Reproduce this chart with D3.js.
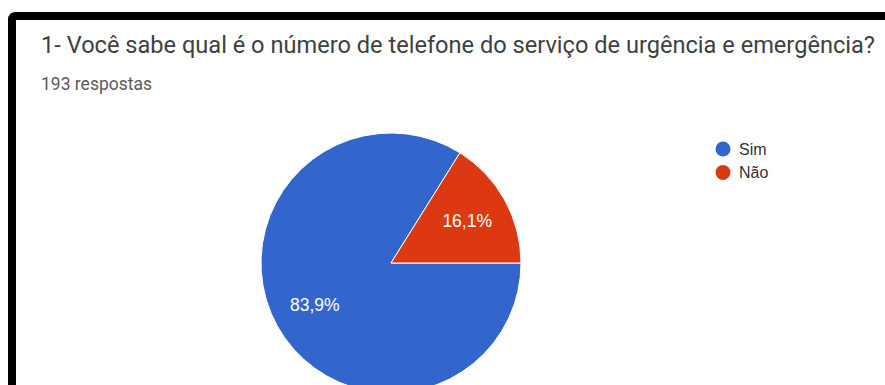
<!DOCTYPE html>
<html>
<head>
<meta charset="utf-8">
<script src="https://cdn.jsdelivr.net/npm/d3@7"></script>
<style>
  html, body { margin: 0; padding: 0; background: #fff; }
  svg { display: block; }
</style>
</head>
<body>
<svg id="chart" width="885" height="385"></svg>
<script>
// Survey answers for question 1
const categories = ["Sim", "Não"];
const percentages = [83.9, 16.1];
const colors = ["#3366cc", "#dc3912"];
const title = "1- Você sabe qual é o número de telefone do serviço de urgência e emergência?";
const subtitle = "193 respostas";

const svg = d3.select("#chart");

// Card frame: thick dark edge along the top and left
svg.append("path")
  .attr("d", "M12,385 L12,20 Q12,16 16,16 L885,16")
  .attr("fill", "none")
  .attr("stroke", "#000")
  .attr("stroke-width", 8);

svg.append("text")
  .attr("x", 41)
  .attr("y", 53)
  .attr("font-family", "Roboto, Arial, sans-serif")
  .attr("font-size", 23.6)
  .attr("fill", "#404040")
  .text(title);

svg.append("text")
  .attr("x", 41)
  .attr("y", 90)
  .attr("font-family", "Roboto, Arial, sans-serif")
  .attr("font-size", 17.5)
  .attr("fill", "#5a5a5a")
  .text(subtitle);

// Pie
const cx = 391, cy = 263, radius = 130;
const data = categories.map((c, i) => ({ label: c, value: percentages[i], color: colors[i] }));

const pie = d3.pie()
  .value(d => d.value)
  .sort(null)
  .startAngle(Math.PI / 2)
  .endAngle(Math.PI / 2 + 2 * Math.PI);

const arc = d3.arc().innerRadius(0).outerRadius(radius);
const labelArc = d3.arc().innerRadius(radius * 0.67).outerRadius(radius * 0.67);

const g = svg.append("g").attr("transform", `translate(${cx},${cy})`);
const arcs = pie(data);

g.selectAll("path.slice")
  .data(arcs)
  .join("path")
  .attr("class", "slice")
  .attr("d", arc)
  .attr("fill", d => d.data.color)
  .attr("stroke", "#fff")
  .attr("stroke-width", 1);

const fmt = v => v.toFixed(1).replace(".", ",") + "%";

g.selectAll("text.pct")
  .data(arcs)
  .join("text")
  .attr("class", "pct")
  .attr("transform", d => {
    const [x, y] = labelArc.centroid(d);
    return `translate(${x},${y})`;
  })
  .attr("text-anchor", "middle")
  .attr("dy", "0.35em")
  .attr("font-family", "Liberation Sans, Arial, sans-serif")
  .attr("font-size", 17.5)
  .attr("fill", "#fff")
  .text(d => fmt(d.data.value));

// Legend
const legend = svg.append("g").attr("transform", "translate(723,149)");
const items = legend.selectAll("g.item")
  .data(data)
  .join("g")
  .attr("class", "item")
  .attr("transform", (d, i) => `translate(0,${i * 23.5})`);

items.append("circle")
  .attr("r", 7.5)
  .attr("fill", d => d.color);

items.append("text")
  .attr("x", 16)
  .attr("dy", "0.35em")
  .attr("font-family", "Liberation Sans, Arial, sans-serif")
  .attr("font-size", 16)
  .attr("fill", "#333")
  .text(d => d.label);
</script>
</body>
</html>
